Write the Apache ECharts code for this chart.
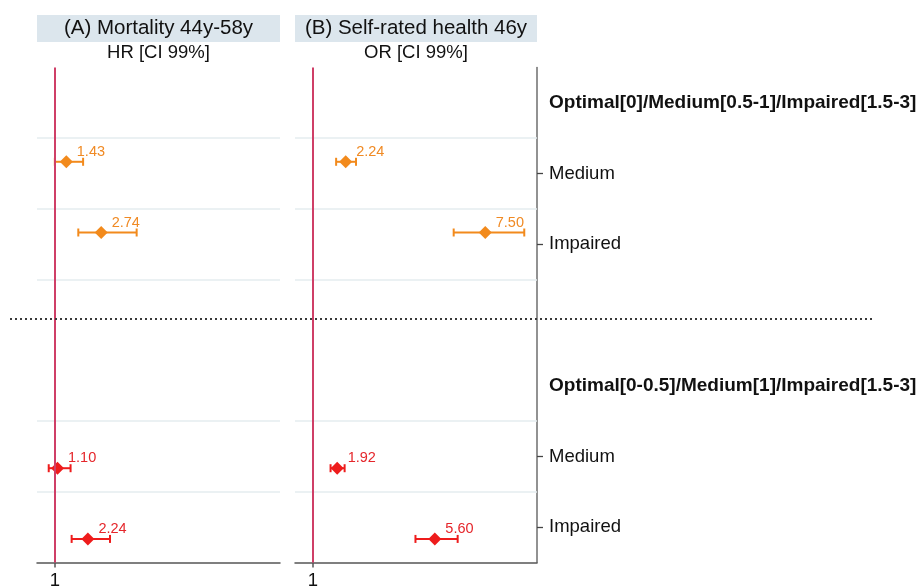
<!DOCTYPE html>
<html><head><meta charset="utf-8">
<script src="https://cdn.jsdelivr.net/npm/echarts@6/dist/echarts.min.js"></script>
<style>html,body{margin:0;padding:0;background:#fff}#c{width:919px;height:588px}</style>
</head><body><div id="c"></div>
<script>
// ---- data ----
const panelTitles = ['(A) Mortality 44y-58y', '(B) Self-rated health 46y'];
const panelSubtitles = ['HR [CI 99%]', 'OR [CI 99%]'];
const rowKeys = ['h1', 'm1', 'i1', 'sep', 'h2', 'm2', 'i2'];
const rowLabels = ['Optimal[0]/Medium[0.5-1]/Impaired[1.5-3]', 'Medium', 'Impaired', '',
                   'Optimal[0-0.5]/Medium[1]/Impaired[1.5-3]', 'Medium', 'Impaired'];
const headerRows = [0, 4];
const tickRows = [1, 2, 5, 6];
const pointRows = [1, 2, 5, 6];
const pointGroup = ['upper', 'upper', 'lower', 'lower'];
const mortEst = [1.43, 2.74, 1.10, 2.24];
const mortLo  = [1.00, 1.88, 0.77, 1.63];
const mortHi  = [2.06, 4.07, 1.59, 3.07];
const srhEst  = [2.24, 7.50, 1.92, 5.60];
const srhLo   = [1.88, 6.31, 1.67, 4.87];
const srhHi   = [2.63, 8.97, 2.20, 6.46];
const xTicks = [1];
const gridBoundaries = [1, 2, 3, 5, 6];
const separatorAt = 3.55;

// ---- styles ----
const FONT = 'Liberation Sans, Arial, sans-serif';
const groupColor = { upper: '#f28a1c', lower: '#ee1c1c' };
const groupLabelColor = { upper: '#f08a24', lower: '#e5262b' };
const groupOffset = { upper: -1 / 6, lower: 1 / 6 };
const panels = [
  { left: 37, width: 243, est: mortEst, lo: mortLo, hi: mortHi },
  { left: 295, width: 242, est: srhEst, lo: srhLo, hi: srhHi }
];
const TOP = 67.5, HEIGHT = 495;

function errRender(params, api) {
  const y = api.value(2);
  const a = api.coord([api.value(0), y]);
  const b = api.coord([api.value(1), y]);
  const h = 4;
  const st = { stroke: api.visual('color'), lineWidth: 2 };
  return { type: 'group', children: [
    { type: 'line', shape: { x1: a[0], y1: a[1], x2: b[0], y2: b[1] }, style: st },
    { type: 'line', shape: { x1: a[0], y1: a[1] - h, x2: a[0], y2: a[1] + h }, style: st },
    { type: 'line', shape: { x1: b[0], y1: b[1] - h, x2: b[0], y2: b[1] + h }, style: st }
  ]};
}

const grid = [], xAxis = [], yAxis = [], series = [], title = [];
panels.forEach((p, k) => {
  grid.push({ left: p.left, width: p.width, top: TOP, height: HEIGHT, containLabel: false, outerBoundsMode: 'none' });
  xAxis.push({
    type: 'value', gridIndex: k, min: 0.33, max: 9.45, position: 'bottom',
    splitLine: { show: false },
    axisLine: { show: true, onZero: false, lineStyle: { color: '#555', width: 1.5 } },
    axisTick: { show: true, customValues: xTicks, length: 5, lineStyle: { color: '#555', width: 1.5 } },
    axisLabel: { show: true, customValues: xTicks, fontSize: 18.5, color: '#111', fontFamily: FONT, margin: 9 }
  });
  yAxis.push({ type: 'value', gridIndex: k, min: 0, max: 7, inverse: true, show: false });
  const yIdx = yAxis.length - 1;

  title.push({
    text: '{t|' + panelTitles[k] + '}', left: p.left, top: 15, padding: 0,
    textStyle: { fontWeight: 'normal', rich: { t: { width: p.width, height: 27, lineHeight: 27, align: 'center',
      backgroundColor: '#dce6ed', fontSize: 20.5, fontWeight: 'normal', color: '#111', fontFamily: FONT } } }
  });
  title.push({
    text: panelSubtitles[k], left: p.left + p.width / 2, textAlign: 'center', top: 43, padding: 0,
    textStyle: { fontSize: 18.5, fontWeight: 'normal', color: '#111', fontFamily: FONT }
  });

  // background grid lines + reference line
  series.push({
    type: 'line', xAxisIndex: k, yAxisIndex: yIdx, data: [], silent: true,
    markLine: {
      silent: true, symbol: 'none', label: { show: false }, animation: false,
      data: gridBoundaries.map(v => ({ yAxis: v, lineStyle: { color: '#e5ecef', width: 1.5, type: 'solid' } }))
        .concat([{ xAxis: 1, lineStyle: { color: '#cf3f67', width: 2, type: 'solid' } }])
    }
  });

  ['upper', 'lower'].forEach(g => {
    const idx = pointGroup.map((v, i) => v === g ? i : -1).filter(i => i >= 0);
    const yOf = i => pointRows[i] + 0.5 + groupOffset[g];
    series.push({
      type: 'custom', xAxisIndex: k, yAxisIndex: yIdx, renderItem: errRender,
      itemStyle: { color: groupColor[g] }, encode: { x: [0, 1], y: 2 }, z: 3,
      data: idx.map(i => [p.lo[i], p.hi[i], yOf(i)]), animation: false
    });
    series.push({
      type: 'scatter', xAxisIndex: k, yAxisIndex: yIdx, symbol: 'diamond', symbolSize: 13, z: 4,
      itemStyle: { color: groupColor[g], opacity: 1 },
      label: { show: true, position: 'right', distance: 4, offset: [0, -10], fontSize: 14.5,
        color: groupLabelColor[g], fontFamily: FONT, formatter: d => d.value[0].toFixed(2) },
      data: idx.map(i => [p.est[i], yOf(i)]), animation: false
    });
  });
});

// row labels on the right of panel B
yAxis.push({
  type: 'category', gridIndex: 1, position: 'right', inverse: true, data: rowKeys,
  axisLine: { show: true, lineStyle: { color: '#6e6e6e', width: 1.5 } },
  axisTick: { show: true, alignWithLabel: true, length: 6, lineStyle: { color: '#444', width: 1.3 },
    interval: (i) => tickRows.indexOf(i) >= 0 },
  axisLabel: { show: true, interval: 0, margin: 12, fontSize: 18.5, color: '#111', fontFamily: FONT,
    formatter: (v) => { const i = rowKeys.indexOf(v); return headerRows.indexOf(i) >= 0 ? '{b|' + rowLabels[i] + '}' : rowLabels[i]; },
    rich: { b: { fontWeight: 'bold', fontSize: 19, color: '#111', fontFamily: FONT } } },
  splitLine: { show: false }
});

// full-width separator
grid.push({ left: 10, width: 863, top: TOP, height: HEIGHT, outerBoundsMode: 'none' });
xAxis.push({ type: 'value', gridIndex: 2, min: 0, max: 1, show: false });
yAxis.push({ type: 'value', gridIndex: 2, min: 0, max: 7, inverse: true, show: false });
series.push({
  type: 'line', xAxisIndex: 2, yAxisIndex: yAxis.length - 1, data: [], silent: true,
  markLine: { silent: true, symbol: 'none', label: { show: false }, animation: false,
    data: [{ yAxis: separatorAt }], lineStyle: { color: '#3a3a3a', width: 1.8, type: [2, 3] } }
});

const chart = echarts.init(document.getElementById('c'), null, { renderer: 'canvas' });
chart.setOption({ animation: false, backgroundColor: '#fff', title, grid, xAxis, yAxis, series });
</script></body></html>
